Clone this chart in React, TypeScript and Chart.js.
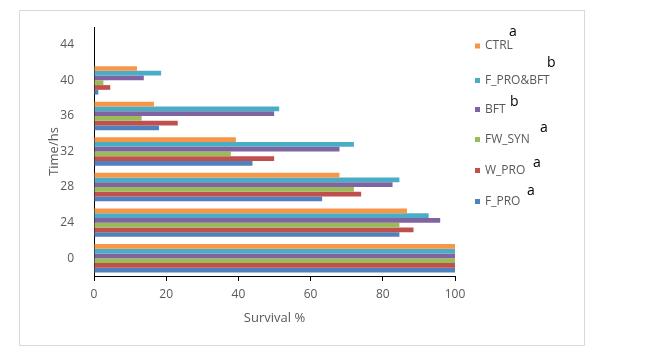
import React, { useEffect, useRef } from "react";
import { Chart, registerables } from "chart.js";

Chart.register(...registerables);

// Categories listed top to bottom as drawn
const categories = ["44", "40", "36", "32", "28", "24", "0"];

const seriesNames = ["CTRL", "F_PRO&BFT", "BFT", "FW_SYN", "W_PRO", "F_PRO"];
const seriesColors = ["#F79646", "#4BACC6", "#8064A2", "#9BBB59", "#C0504D", "#4F81BD"];
const seriesLetters = ["a", "b", "b", "a", "a", "a"];

const ctrlValues = [null, 11.9, 16.6, 39.3, 68, 86.7, 100];
const fproBftValues = [null, 18.6, 51.3, 72, 84.6, 92.7, 100];
const bftValues = [null, 13.8, 49.9, 68, 82.7, 95.9, 100];
const fwSynValues = [null, 2.6, 13.2, 37.9, 72, 84.6, 100];
const wProValues = [null, 4.5, 23.2, 49.9, 74, 88.5, 100];
const fProValues = [null, 1.2, 18, 43.9, 63.2, 84.6, 100];

const seriesValues = [ctrlValues, fproBftValues, bftValues, fwSynValues, wProValues, fProValues];

const xTickValues = [0, 20, 40, 60, 80, 100];

const FONT = "'Open Sans', 'Noto Sans', sans-serif";

// legend layout (page pixels)
const legendRowsY = [46, 80.5, 109.5, 139.5, 170.5, 201.5];
const letterPos = [
  [509, 36],
  [547, 67],
  [510, 106],
  [540, 132],
  [533, 167],
  [527, 195],
];

const framePlugin = {
  id: "frameAndLegend",
  beforeDraw(chart: any) {
    const ctx = chart.ctx;
    ctx.save();
    ctx.fillStyle = "#ffffff";
    ctx.fillRect(0, 0, chart.width, chart.height);
    ctx.strokeStyle = "#d9d9d9";
    ctx.lineWidth = 1;
    ctx.strokeRect(19.5, 10.5, 565, 335);
    ctx.restore();
  },
  afterDraw(chart: any) {
    const ctx = chart.ctx;
    ctx.save();
    seriesNames.forEach((name, i) => {
      const cy = legendRowsY[i];
      ctx.fillStyle = seriesColors[i];
      ctx.fillRect(475, cy - 2.5, 5, 5);
      ctx.fillStyle = "#595959";
      ctx.font = `12px ${FONT}`;
      ctx.textBaseline = "middle";
      ctx.textAlign = "left";
      ctx.fillText(name, 485, cy);
      ctx.fillStyle = "#000000";
      ctx.font = `14px ${FONT}`;
      ctx.textBaseline = "alphabetic";
      ctx.fillText(seriesLetters[i], letterPos[i][0], letterPos[i][1]);
    });
    ctx.restore();
  },
};

export default function App() {
  const canvasRef = useRef<HTMLCanvasElement | null>(null);

  useEffect(() => {
    document.body.style.margin = "0";
    const canvas = canvasRef.current;
    if (!canvas) return;
    const chart = new Chart(canvas, {
      type: "bar",
      data: {
        labels: categories,
        datasets: seriesNames.map((name, i) => ({
          label: name,
          data: seriesValues[i] as any,
          backgroundColor: seriesColors[i],
          borderWidth: 0,
          categoryPercentage: 0.8,
          barPercentage: 1.0,
        })),
      },
      options: {
        indexAxis: "y",
        animation: false,
        responsive: false,
        maintainAspectRatio: false,
        layout: { padding: { left: 42, right: 203, top: 27, bottom: 26 } },
        plugins: {
          legend: { display: false },
          tooltip: { enabled: false },
        },
        scales: {
          x: {
            min: 0,
            max: 100,
            afterFit: (s: any) => {
              s.height = 54;
            },
            afterBuildTicks: (s: any) => {
              s.ticks = xTickValues.map((v) => ({ value: v }));
            },
            grid: {
              display: true,
              drawOnChartArea: false,
              drawTicks: true,
              tickLength: 5,
              color: "#000000",
            },
            border: { display: true, color: "#000000", width: 1 },
            ticks: {
              padding: 6,
              color: "#595959",
              font: { family: FONT, size: 12 },
            },
            title: {
              display: true,
              text: "Survival %",
              color: "#595959",
              font: { family: FONT, size: 13 },
              padding: { top: 4, bottom: 4 },
            },
          },
          y: {
            afterFit: (s: any) => {
              s.width = 52;
            },
            grid: { display: false },
            border: { display: true, color: "#000000", width: 1 },
            ticks: {
              padding: 12,
              color: "#595959",
              font: { family: FONT, size: 12 },
            },
            title: {
              display: true,
              text: "Time/hs",
              color: "#595959",
              font: { family: FONT, size: 13 },
              padding: { top: 4, bottom: 4 },
            },
          },
        },
      },
      plugins: [framePlugin],
    });
    return () => chart.destroy();
  }, []);

  return (
    <div style={{ width: 658, height: 356 }}>
      <canvas ref={canvasRef} width={658} height={356} style={{ display: "block", width: 658, height: 356 }} />
    </div>
  );
}
